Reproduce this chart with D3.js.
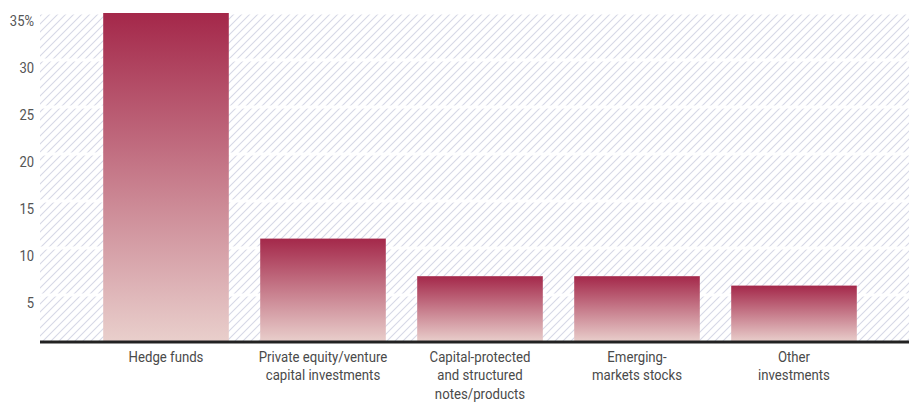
<!DOCTYPE html>
<html>
<head>
<meta charset="utf-8">
<script src="https://cdn.jsdelivr.net/npm/d3@7"></script>
<style>
  html, body { margin: 0; padding: 0; background: #fff; }
  svg { display: block; }
  text { font-family: "Roboto", "Liberation Sans", sans-serif; }
</style>
</head>
<body>
<svg id="chart" width="909" height="402"></svg>
<script>
// Share of respondents by alternative investment type
const categories = [
  ["Hedge funds"],
  ["Private equity/venture", "capital investments"],
  ["Capital-protected", "and structured", "notes/products"],
  ["Emerging-", "markets stocks"],
  ["Other", "investments"]
];
const values = [35, 11, 7, 7, 6];
const yTicks = [5, 10, 15, 20, 25, 30, 35];

const width = 909, height = 402;
const plot = { left: 40, right: 909, top: 13, bottom: 342 };
const narrow = 0.84; // horizontal squeeze for a condensed look

const svg = d3.select("#chart");
const defs = svg.append("defs");

// diagonal hatch for the plot background
const hatch = defs.append("pattern")
  .attr("id", "hatch")
  .attr("patternUnits", "userSpaceOnUse")
  .attr("width", 8).attr("height", 8);
hatch.append("path")
  .attr("d", "M-2,2 L2,-2 M0,8 L8,0 M6,10 L10,6")
  .attr("stroke", "#d6d8e6")
  .attr("stroke-width", 1.1);

// vertical fade for the bars
const grad = defs.append("linearGradient")
  .attr("id", "barFill")
  .attr("x1", 0).attr("y1", 0).attr("x2", 0).attr("y2", 1);
grad.append("stop").attr("offset", "0%").attr("stop-color", "#a4284a");
grad.append("stop").attr("offset", "100%").attr("stop-color", "#e9cfcc");

const x = d3.scaleBand()
  .domain(categories.map((c, i) => i))
  .range([87.5, 872.5])
  .paddingInner(0.2)
  .paddingOuter(0.1);

const y = d3.scaleLinear()
  .domain([0, 35])
  .range([plot.bottom, plot.top]);

// hatched background
svg.append("rect")
  .attr("x", plot.left).attr("y", y(35))
  .attr("width", plot.right - plot.left)
  .attr("height", plot.bottom - y(35))
  .attr("fill", "url(#hatch)");

// white gridlines
svg.append("g")
  .selectAll("line")
  .data(yTicks)
  .join("line")
  .attr("x1", plot.left).attr("x2", plot.right)
  .attr("y1", d => y(d)).attr("y2", d => y(d))
  .attr("stroke", "#fff")
  .attr("stroke-width", 3);

// y tick labels
const yAxis = d3.axisLeft(y)
  .tickValues(yTicks)
  .tickSize(0)
  .tickPadding(0)
  .tickFormat(d => d === 35 ? "35%" : d);
const yg = svg.append("g")
  .attr("transform", `translate(${plot.left - 6},0)`)
  .call(yAxis);
yg.select(".domain").remove();
yg.selectAll("text")
  .attr("dy", null)
  .attr("x", 0)
  .attr("dominant-baseline", "hanging")
  .attr("y", 1)
  .attr("font-size", 15.5)
  .attr("fill", "#555");
yg.selectAll(".tick")
  .attr("transform", function () {
    const t = d3.select(this).attr("transform");
    return t + ` scale(${narrow},1)`;
  });

// bars
svg.append("g")
  .selectAll("rect")
  .data(values)
  .join("rect")
  .attr("x", (d, i) => x(i))
  .attr("width", x.bandwidth())
  .attr("y", d => y(d))
  .attr("height", d => y(0) - y(d))
  .attr("fill", "url(#barFill)");

// baseline axis
svg.append("line")
  .attr("x1", plot.left).attr("x2", plot.right)
  .attr("y1", y(0)).attr("y2", y(0))
  .attr("stroke", "#222")
  .attr("stroke-width", 3);

// category labels
const labels = svg.append("g")
  .selectAll("text")
  .data(categories)
  .join("text")
  .attr("transform", (d, i) => `translate(${x(i) + x.bandwidth() / 2},362) scale(${narrow + 0.04},1)`)
  .attr("text-anchor", "middle")
  .attr("font-size", 15)
  .attr("fill", "#4a4a4a");
labels.selectAll("tspan")
  .data(d => d)
  .join("tspan")
  .attr("x", 0)
  .attr("dy", (d, i) => i === 0 ? 0 : 18.5)
  .text(d => d);
</script>
</body>
</html>
